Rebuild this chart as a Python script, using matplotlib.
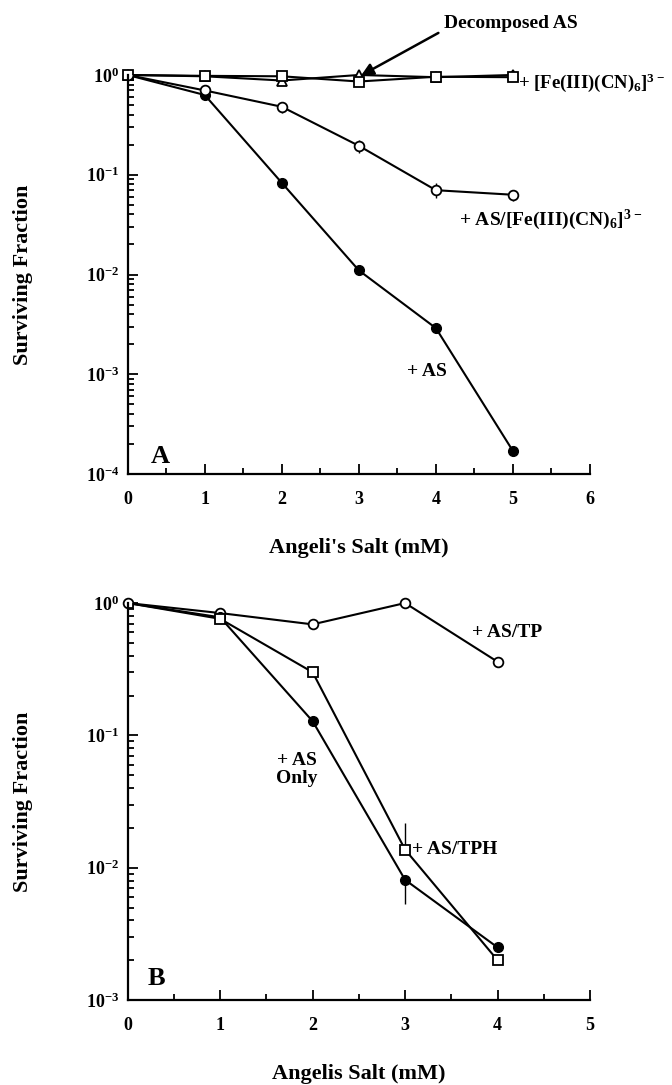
import numpy as np
import matplotlib
matplotlib.use("Agg")
from matplotlib import pyplot as plt
from matplotlib.ticker import LogLocator, NullFormatter, FixedLocator

plt.rcParams['font.family'] = ['Liberation Serif', 'DejaVu Serif']
plt.rcParams['font.weight'] = 'bold'
plt.rcParams['mathtext.fontset'] = 'custom'
plt.rcParams['mathtext.rm'] = 'Liberation Serif:bold'
plt.rcParams['mathtext.bf'] = 'Liberation Serif:bold'
plt.rcParams['mathtext.default'] = 'rm'

# panel A data
x_a = [0, 1, 2, 3, 4, 5]
as_only_a = [1.0, 0.63, 0.083, 0.011, 0.0029, 0.00017]
as_fe_a = [1.0, 0.70, 0.48, 0.195, 0.070, 0.063]
as_fe_err = [0.0, 0.03, 0.06, 0.03, 0.012, 0.008]
fe_only_a = [1.0, 0.98, 0.97, 0.86, 0.96, 0.95]
decomp_a = [1.0, 0.97, 0.88, 1.0, 0.95, 1.0]

# panel B data
x_b = [0, 1, 2, 3, 4]
as_tp_b = [1.0, 0.84, 0.69, 1.0, 0.36]
as_only_b = [1.0, 0.78, 0.128, 0.0081, 0.0025]
as_only_err_lo = [0, 0, 0, 0.0028, 0]
as_tph_b = [1.0, 0.76, 0.30, 0.0137, 0.002]
as_tph_err_hi = [0, 0, 0, 0.008, 0]

fig = plt.figure(figsize=(6.72, 10.85), dpi=100)
axA = fig.add_axes([0.19, 0.5631, 0.688, 0.3678])
axB = fig.add_axes([0.19, 0.0783, 0.688, 0.3659])

lw = 1.5
ms = 7
fs_note = 14


def style(ax, xmax, ymin):
    ax.set_yscale('log')
    ax.set_xlim(0, xmax)
    ax.set_ylim(ymin, 1.0)
    for s in ['top', 'right']:
        ax.spines[s].set_visible(False)
    for s in ['left', 'bottom']:
        ax.spines[s].set_linewidth(1.6)
    ax.xaxis.set_major_locator(FixedLocator(range(0, xmax + 1)))
    ax.xaxis.set_minor_locator(FixedLocator(np.arange(0.5, xmax, 1.0)))
    ax.yaxis.set_major_locator(LogLocator(base=10, numticks=10))
    ax.yaxis.set_minor_locator(LogLocator(base=10, subs=np.arange(2, 10), numticks=20))
    ax.yaxis.set_minor_formatter(NullFormatter())
    ax.tick_params(which='both', direction='in', width=1.3)
    ax.tick_params(which='major', length=7, labelsize=13, pad=6)
    ax.tick_params(which='minor', length=4)
    ax.tick_params(axis='x', pad=12)
    ax.set_ylabel('Surviving Fraction', fontsize=16, fontweight='bold', labelpad=38)


# ---- panel A ----
style(axA, 6, 1e-4)
axA.set_xticklabels([str(i) for i in range(7)])
axA.set_yticks([1, 1e-1, 1e-2, 1e-3, 1e-4])
axA.set_yticklabels([r'$10^{0}$', r'$10^{-1}$', r'$10^{-2}$', r'$10^{-3}$', r'$10^{-4}$'])

axA.plot(x_a, decomp_a, '-', color='black', lw=lw, marker='^', ms=ms,
         mfc='white', mec='black', mew=1.3, clip_on=False)
axA.plot(x_a, fe_only_a, '-', color='black', lw=lw, marker='s', ms=ms,
         mfc='white', mec='black', mew=1.3, clip_on=False)
axA.errorbar(x_a, as_fe_a, yerr=as_fe_err, fmt='-o', color='black', lw=lw,
             ms=ms, mfc='white', mec='black', mew=1.3, elinewidth=1.0, capsize=0)
axA.plot(x_a, as_only_a, '-o', color='black', lw=lw, ms=ms, mfc='black', mec='black')

axA.set_xlabel("Angeli's Salt (mM)", fontsize=16, fontweight='bold', labelpad=22)

axA.text(5.07, 0.84, r'+ [Fe(III)(CN)$_6$]$^{3-}$', fontsize=13.5, va='center', ha='left')
axA.text(4.3, 0.035, r'+ AS/[Fe(III)(CN)$_6$]$^{3-}$', fontsize=fs_note, va='center', ha='left')
axA.text(3.62, 0.00107, '+ AS', fontsize=fs_note, va='center', ha='left')
axA.text(0.3, 1.3e-4, 'A', fontsize=19, va='baseline', ha='left')
axA.annotate('Decomposed AS', xy=(3.03, 0.99), xytext=(4.1, 3.3),
             fontsize=fs_note, ha='left', va='center', annotation_clip=False,
             arrowprops=dict(arrowstyle='-|>', color='black', lw=1.8,
                             mutation_scale=18, shrinkA=2, shrinkB=0,
                             relpos=(0.0, 0.1)))

# ---- panel B ----
style(axB, 5, 1e-3)
axB.set_xticklabels([str(i) for i in range(6)])
axB.set_yticks([1, 1e-1, 1e-2, 1e-3])
axB.set_yticklabels([r'$10^{0}$', r'$10^{-1}$', r'$10^{-2}$', r'$10 ^{-3}$'])

axB.plot(x_b, as_tp_b, '-o', color='black', lw=lw, ms=ms, mfc='white', mec='black',
         mew=1.3, clip_on=False)
axB.errorbar(x_b, as_only_b, yerr=[as_only_err_lo, [0] * 5], fmt='-o', color='black',
             lw=lw, ms=ms, mfc='black', mec='black', elinewidth=1.0, capsize=0)
axB.errorbar(x_b, as_tph_b, yerr=[[0] * 5, as_tph_err_hi], fmt='-s', color='black',
             lw=lw, ms=ms, mfc='white', mec='black', mew=1.3, elinewidth=1.0, capsize=0)

axB.set_xlabel('Angelis Salt (mM)', fontsize=16, fontweight='bold', labelpad=22)

axB.text(3.72, 0.60, '+ AS/TP', fontsize=fs_note, va='center', ha='left')
axB.text(1.83, 0.055, '+ AS\nOnly', fontsize=fs_note, va='center', ha='center',
         linespacing=1.05)
axB.text(3.08, 0.0137, '+ AS/TPH', fontsize=fs_note, va='center', ha='left')
axB.text(0.22, 1.3e-3, 'B', fontsize=19, va='baseline', ha='left')

fig.savefig('out.png', dpi=100)
